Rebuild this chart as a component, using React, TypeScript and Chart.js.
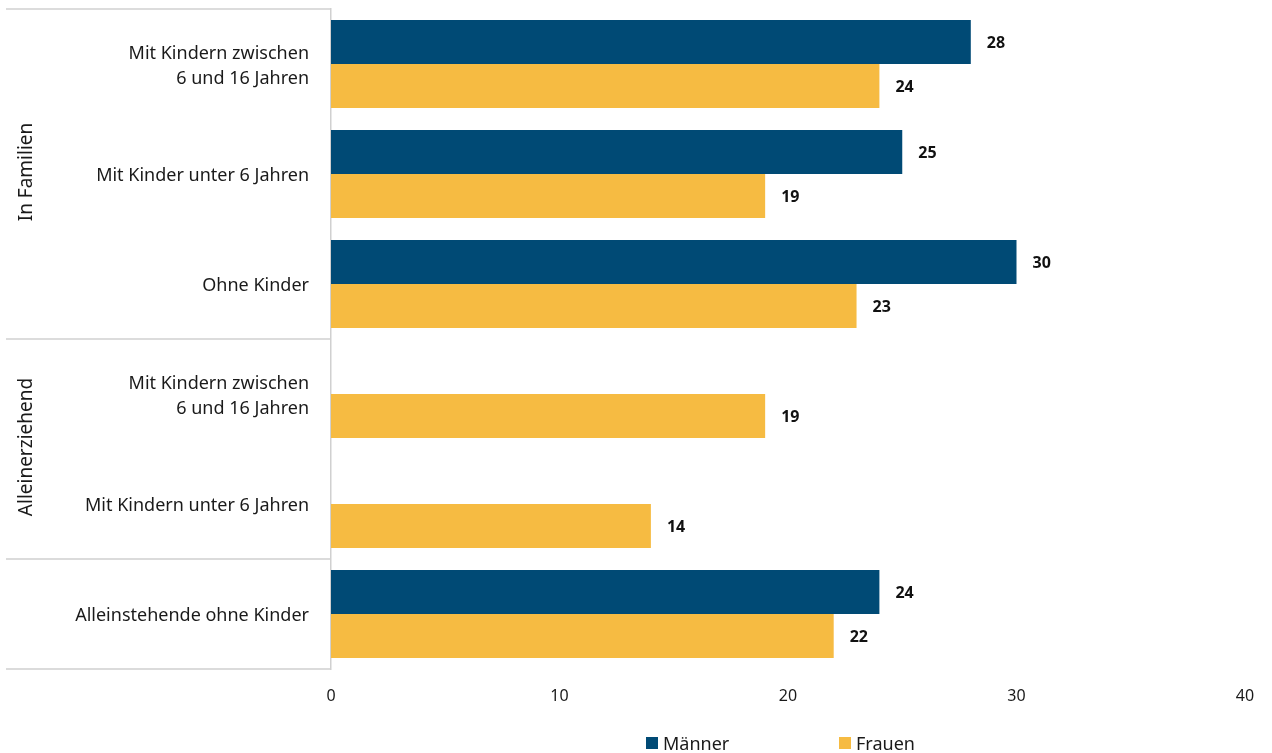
import React, { useEffect, useRef } from "react";
import { Chart, registerables } from "chart.js";
Chart.register(...registerables);

const categories: (string | string[])[] = [
  ["Mit Kindern zwischen", "6 und 16 Jahren"],
  "Mit Kinder unter 6 Jahren",
  "Ohne Kinder",
  ["Mit Kindern zwischen", "6 und 16 Jahren"],
  "Mit Kindern unter 6 Jahren",
  "Alleinstehende ohne Kinder",
];
const maenner: (number | null)[] = [28, 25, 30, null, null, 24];
const frauen: (number | null)[] = [24, 19, 23, 19, 14, 22];
const seriesNames = ["Männer", "Frauen"];
const groupLabels = ["In Familien", "Alleinerziehend", ""];
const groupStart = [0, 3, 5];
const groupEnd = [2, 4, 5];
const xMin = 0;
const xMax = 40;
const xStep = 10;

const NAVY = "#004A75";
const GOLD = "#F6BB42";
const FONT = "'Noto Sans', sans-serif";

const groupPlugin = {
  id: "groupBoxes",
  afterDraw(chart: any) {
    const { ctx, chartArea } = chart;
    const y = chart.scales.y;
    const band = y.getPixelForValue(1) - y.getPixelForValue(0);
    ctx.save();
    ctx.strokeStyle = "#d0d0d0";
    ctx.lineWidth = 1.5;
    const x0 = 6;
    const x1 = chartArea.left;
    for (let g = 0; g < groupLabels.length; g++) {
      const top = y.getPixelForValue(groupStart[g]) - band / 2;
      const bottom = y.getPixelForValue(groupEnd[g]) + band / 2;
      ctx.beginPath();
      ctx.moveTo(x0, top);
      ctx.lineTo(x1, top);
      if (g === groupLabels.length - 1) {
        ctx.moveTo(x0, bottom);
        ctx.lineTo(x1, bottom);
      }
      ctx.stroke();
      if (groupLabels[g]) {
        ctx.save();
        ctx.translate(27, (top + bottom) / 2 - 2);
        ctx.rotate(-Math.PI / 2);
        ctx.fillStyle = "#1a1a1a";
        ctx.font = `19px ${FONT}`;
        ctx.textAlign = "center";
        ctx.textBaseline = "middle";
        ctx.fillText(groupLabels[g], 0, 0);
        ctx.restore();
      }
    }
    ctx.restore();
  },
};

const valueLabelPlugin = {
  id: "valueLabels",
  afterDatasetsDraw(chart: any) {
    const { ctx } = chart;
    ctx.save();
    ctx.fillStyle = "#111";
    ctx.font = `bold 16px ${FONT}`;
    ctx.textAlign = "left";
    ctx.textBaseline = "middle";
    chart.data.datasets.forEach((ds: any, i: number) => {
      const meta = chart.getDatasetMeta(i);
      meta.data.forEach((el: any, j: number) => {
        const v = ds.data[j];
        if (v === null || v === undefined) return;
        ctx.fillText(String(v), el.x + 16, el.y + 1);
      });
    });
    ctx.restore();
  },
};

const legendPlugin = {
  id: "customLegend",
  afterDraw(chart: any) {
    const { ctx } = chart;
    ctx.save();
    ctx.font = `18px ${FONT}`;
    ctx.textBaseline = "middle";
    ctx.textAlign = "left";
    const startX = [646, 839];
    const cy = 743;
    chart.data.datasets.forEach((ds: any, i: number) => {
      ctx.fillStyle = ds.backgroundColor;
      ctx.fillRect(startX[i], cy - 6, 12, 12);
      ctx.fillStyle = "#1a1a1a";
      ctx.fillText(ds.label, startX[i] + 17, cy + 2);
    });
    ctx.restore();
  },
};

export default function App() {
  const ref = useRef<HTMLCanvasElement>(null);
  useEffect(() => {
    document.body.style.margin = "0";
    const chart = new Chart(ref.current!, {
      type: "bar",
      data: {
        labels: categories,
        datasets: [
          { label: seriesNames[0], data: maenner, backgroundColor: NAVY },
          { label: seriesNames[1], data: frauen, backgroundColor: GOLD },
        ],
      },
      options: {
        indexAxis: "y",
        animation: false,
        responsive: false,
        maintainAspectRatio: false,
        datasets: { bar: { categoryPercentage: 0.8, barPercentage: 1 } },
        layout: { padding: { top: 9, right: 27, left: 0, bottom: 0 } },
        plugins: { legend: { display: false }, tooltip: { enabled: false } },
        scales: {
          x: {
            min: xMin,
            max: xMax,
            ticks: { stepSize: xStep, padding: 18, color: "#1a1a1a", font: { family: FONT, size: 16 } },
            grid: { display: false, drawTicks: false },
            border: { display: false },
            afterFit(scale: any) {
              scale.height = 84;
              scale.paddingLeft = 0;
              scale.paddingRight = 0;
            },
          },
          y: {
            ticks: { padding: 22, labelOffset: 2, color: "#1a1a1a", font: { family: FONT, size: 18, lineHeight: 1.4 } },
            grid: { display: false, drawTicks: false },
            border: { display: true, color: "#d0d0d0", width: 1.5 },
            afterFit(scale: any) {
              scale.width = 331;
              scale.paddingTop = 0;
              scale.paddingBottom = 0;
            },
          },
        },
      },
      plugins: [groupPlugin, valueLabelPlugin, legendPlugin],
    });
    return () => chart.destroy();
  }, []);
  return (
    <div style={{ width: 1272, height: 753 }}>
      <canvas ref={ref} width={1272} height={753} />
    </div>
  );
}
